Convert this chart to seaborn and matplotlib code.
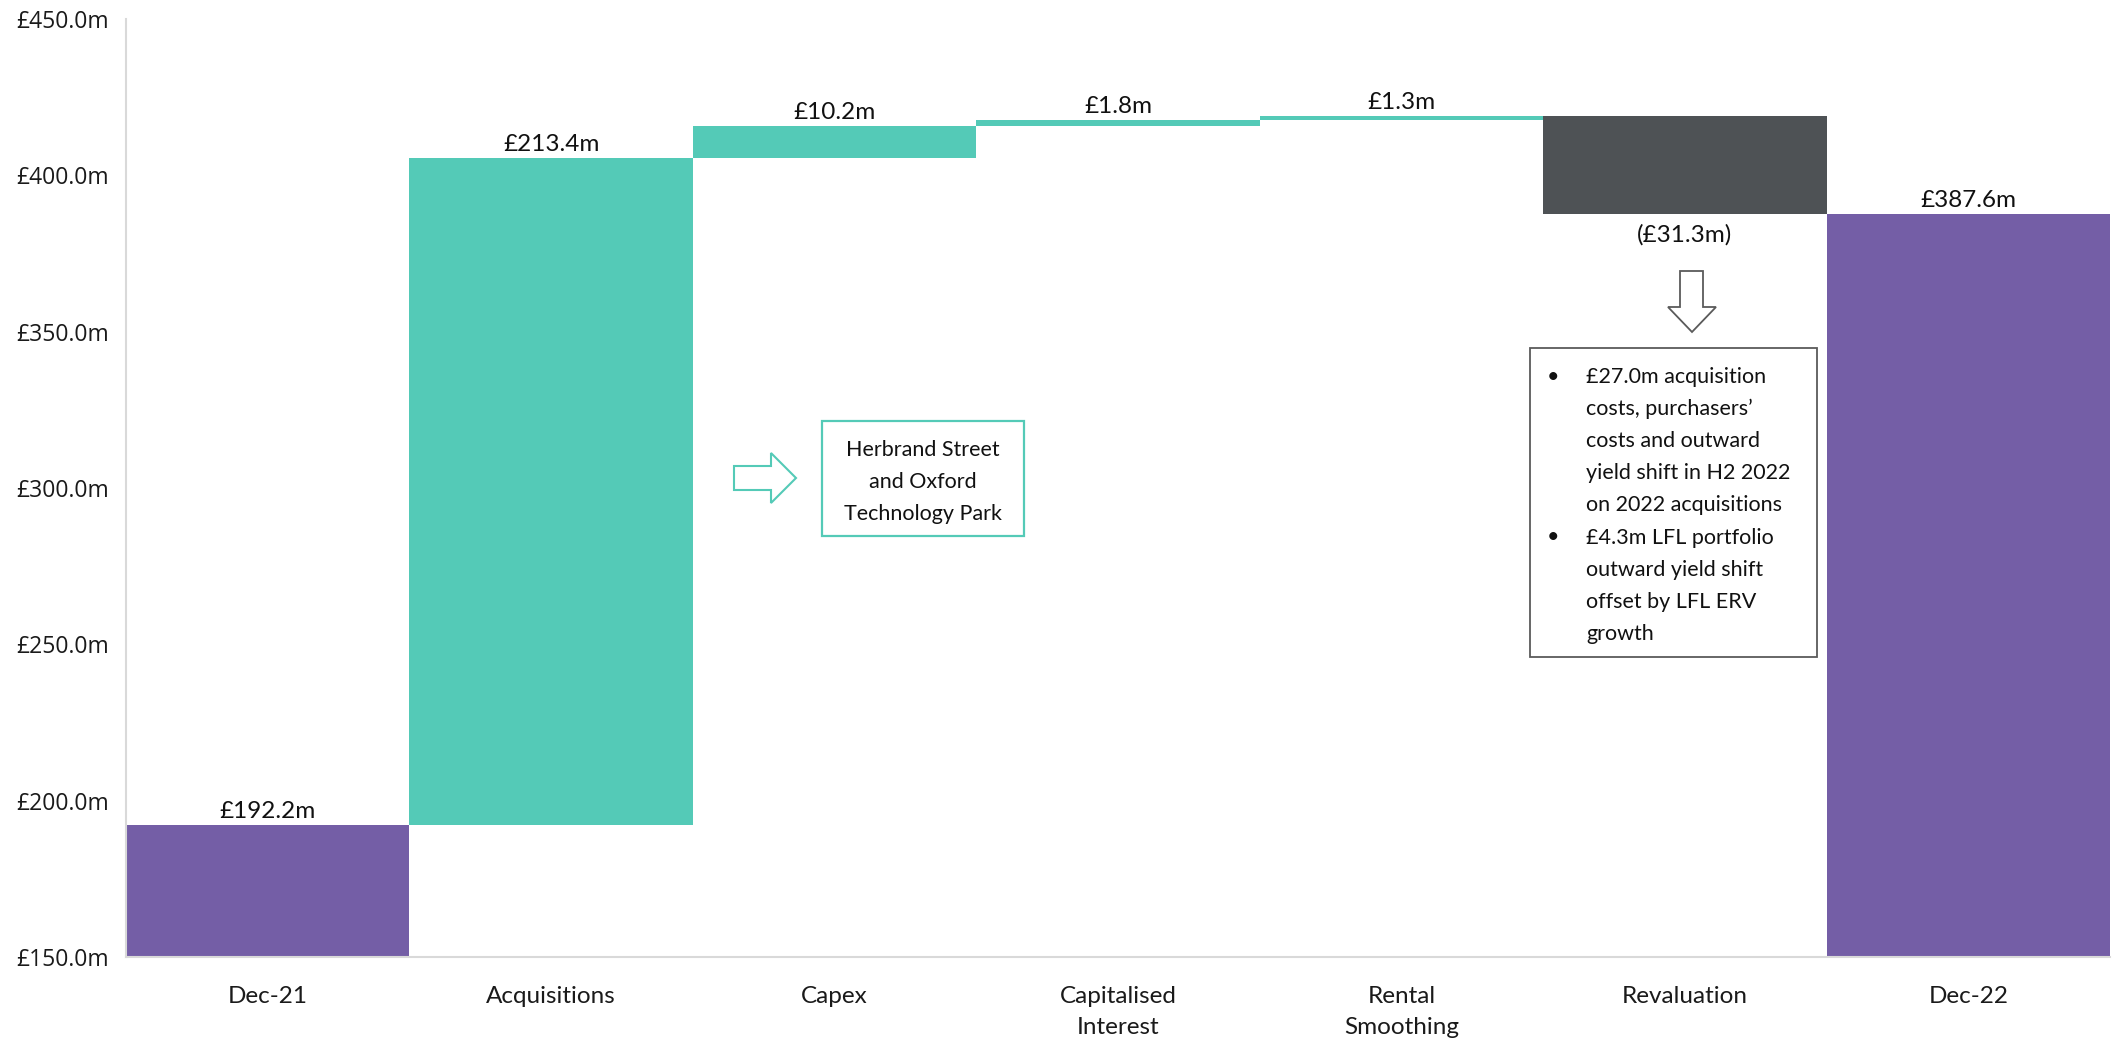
import matplotlib
matplotlib.use("Agg")
import matplotlib.pyplot as plt
from matplotlib.patches import Polygon, Rectangle
import seaborn as sns
import pandas as pd

# Portfolio value bridge, Dec-21 to Dec-22 (£m)
categories = ["Dec-21", "Acquisitions", "Capex", "Capitalised\nInterest",
              "Rental\nSmoothing", "Revaluation", "Dec-22"]
movements = [192.2, 213.4, 10.2, 1.8, 1.3, -31.3, 387.6]
is_total = [True, False, False, False, False, False, True]
value_labels = ["£192.2m", "£213.4m", "£10.2m", "£1.8m", "£1.3m", "(£31.3m)", "£387.6m"]
y_ticks = [150, 200, 250, 300, 350, 400, 450]

TEAL = "#54CAB7"
PURPLE = "#745EA6"
SLATE = "#4E5255"
AXIS_GREY = "#D9D9D9"

# Running totals give each floating bar its base and top
bottoms, tops = [], []
running = 0.0
for mv, tot in zip(movements, is_total):
    if tot:
        lo, hi = 0.0, mv
        running = mv
    else:
        lo, hi = running, running + mv
        running = hi
    bottoms.append(min(lo, hi))
    tops.append(max(lo, hi))

colors = [PURPLE if t else (TEAL if m >= 0 else SLATE) for m, t in zip(movements, is_total)]

df = pd.DataFrame({"step": categories, "top": tops})

sns.set_theme(style="white")
plt.rcParams["font.family"] = ["Lato", "DejaVu Sans"]

W, H = 2118, 1038
fig = plt.figure(figsize=(W / 100, H / 100), dpi=100)
ax = fig.add_axes([126 / W, 1 - 957 / H, (2110 - 126) / W, (957 - 19) / H])

sns.barplot(data=df, x="step", y="top", hue="step", palette=colors,
            width=1.0, saturation=1, legend=False, linewidth=0, ax=ax)

# Float each bar between its running-total base and top
bars = sorted(ax.patches, key=lambda p: p.get_x())
for bar, lo, hi in zip(bars, bottoms, tops):
    bar.set_y(lo)
    bar.set_height(hi - lo)

ax.set_ylim(150, 450)
ax.set_xlim(-0.5, len(categories) - 0.5)
ax.set_yticks(y_ticks)
ax.set_yticklabels([f"£{v:.1f}m" for v in y_ticks], fontsize=16.5,
                   family=["Open Sans", "DejaVu Sans"], color="#1a1a1a")
ax.set_xlabel("")
ax.set_ylabel("")
ax.tick_params(axis="both", length=0)
ax.tick_params(axis="y", pad=12)
ax.tick_params(axis="x", pad=21)
for lab in ax.get_xticklabels():
    lab.set_fontsize(17.5)
    lab.set_color("#1a1a1a")
    lab.set_linespacing(1.6)

for side in ["top", "right"]:
    ax.spines[side].set_visible(False)
for side in ["left", "bottom"]:
    ax.spines[side].set_color(AXIS_GREY)
    ax.spines[side].set_linewidth(1.5)

# Value labels: above rising bars, below falling ones
for i, (mv, lab) in enumerate(zip(movements, value_labels)):
    if mv >= 0:
        ax.annotate(lab, xy=(i, tops[i]), xytext=(0, 5), textcoords="offset points",
                    ha="center", va="baseline", fontsize=17.5, color="#111111")
    else:
        ax.annotate(lab, xy=(i, bottoms[i]), xytext=(0, -7), textcoords="offset points",
                    ha="center", va="top", fontsize=17.5, color="#111111")


def fp(x, y):
    return (x / W, 1 - y / H)


# Callout: acquisitions
arrow_r = [(734, 466), (771, 466), (771, 453), (796, 478), (771, 503), (771, 490), (734, 490)]
fig.add_artist(Polygon([fp(*p) for p in arrow_r], closed=True, facecolor="white",
                       edgecolor=TEAL, linewidth=1.5, transform=fig.transFigure))
fig.add_artist(Rectangle(fp(822, 536), (1024 - 822) / W, (536 - 421) / H, facecolor="white",
                         edgecolor=TEAL, linewidth=1.6, transform=fig.transFigure))
for k, line in enumerate(["Herbrand Street", "and Oxford", "Technology Park"]):
    fig.text(*fp(923, 448 + 32 * k + 8), line, ha="center", va="baseline",
             fontsize=15.5, color="#111111")

# Callout: revaluation
arrow_d = [(1680, 271), (1703, 271), (1703, 307), (1716, 307), (1692, 332), (1668, 307), (1680, 307)]
fig.add_artist(Polygon([fp(*p) for p in arrow_d], closed=True, facecolor="white",
                       edgecolor="#5A5A5A", linewidth=1.3, transform=fig.transFigure))
fig.add_artist(Rectangle(fp(1530, 657), (1817 - 1530) / W, (657 - 348) / H, facecolor="white",
                         edgecolor="#5A5A5A", linewidth=1.3, transform=fig.transFigure))
bullets = [
    ["£27.0m acquisition", "costs, purchasers’", "costs and outward",
     "yield shift in H2 2022", "on 2022 acquisitions"],
    ["£4.3m LFL portfolio", "outward yield shift", "offset by LFL ERV", "growth"],
]
row = 0
for item in bullets:
    fig.text(*fp(1553, 375 + 32.1 * row + 8), "•", ha="center", va="baseline",
             fontsize=15.5, color="#111111")
    for line in item:
        fig.text(*fp(1586, 375 + 32.1 * row + 8), line, ha="left", va="baseline",
                 fontsize=15.5, color="#111111")
        row += 1

fig.savefig("out.png", dpi=100, facecolor="white")
